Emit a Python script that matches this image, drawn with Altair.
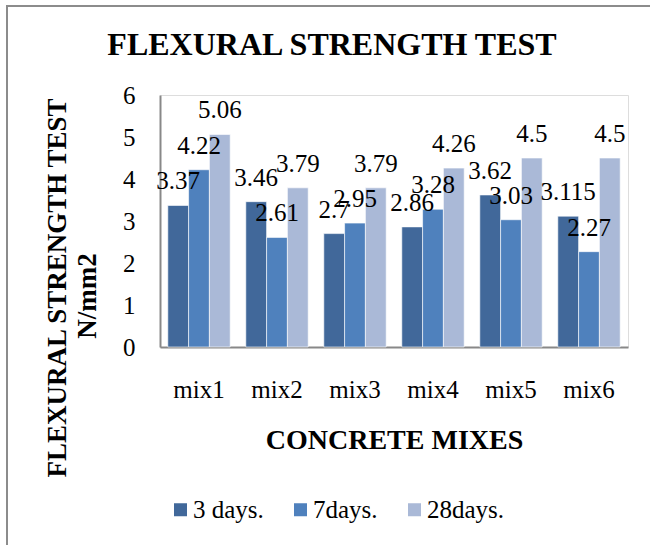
import altair as alt
import pandas as pd

# Flexural strength (N/mm2) per concrete mix and curing age
mixes = ["mix1", "mix2", "mix3", "mix4", "mix5", "mix6"]
ages = ["3 days.", "7days.", "28days."]
days3 = [3.37, 3.46, 2.7, 2.86, 3.62, 3.115]
days7 = [4.22, 2.61, 2.95, 3.28, 3.03, 2.27]
days28 = [5.06, 3.79, 3.79, 4.26, 4.5, 4.5]
colors = ["#41689A", "#4F81BD", "#AAB9D7"]

chart_title = "FLEXURAL STRENGTH TEST"
y_title = ["FLEXURAL STRENGTH TEST", "N/mm2"]
x_title = "CONCRETE MIXES"

rows = []
for age, vals in zip(ages, [days3, days7, days28]):
    for mix, v in zip(mixes, vals):
        rows.append({"mix": mix, "age": age, "strength": v, "label": str(v)})
df = pd.DataFrame(rows)

serif = "Liberation Serif"
W, H = 468, 252
PAD = {"left": 160, "top": 95, "right": 22, "bottom": 198}

x_enc = alt.X(
    "mix:N",
    sort=mixes,
    scale=alt.Scale(paddingInner=0.2, paddingOuter=0.1),
    axis=alt.Axis(
        title=x_title,
        labelAngle=0,
        labelFont=serif,
        labelFontSize=25,
        labelColor="#000000",
        labelBaseline="alphabetic",
        labelPadding=50,
        ticks=False,
        tickSize=0,
        domainColor="#888888",
        domainWidth=2,
        titleFont=serif,
        titleFontSize=28,
        titleFontWeight="bold",
        titleColor="#000000",
        titleBaseline="alphabetic",
        titleY=101,
        titleX=W / 2,
        grid=False,
    ),
)
xoff_enc = alt.XOffset("age:N", sort=ages, scale=alt.Scale(paddingInner=0, paddingOuter=0))
y_enc = alt.Y(
    "strength:Q",
    scale=alt.Scale(domain=[0, 6], nice=False),
    axis=alt.Axis(
        title=None,
        values=[0, 1, 2, 3, 4, 5, 6],
        labelFont=serif,
        labelFontSize=25,
        labelColor="#000000",
        labelPadding=25,
        ticks=False,
        tickSize=0,
        domainColor="#888888",
        domainWidth=2,
        grid=False,
    ),
)

bars = alt.Chart(df).mark_bar(stroke="#ffffff", strokeWidth=1, strokeOpacity=0.6).encode(
    x=x_enc,
    xOffset=xoff_enc,
    y=y_enc,
    color=alt.Color(
        "age:N",
        sort=ages,
        scale=alt.Scale(domain=ages, range=colors),
        legend=alt.Legend(
            title=None,
            orient="none",
            direction="horizontal",
            legendX=8,
            legendY=402,
            padding=0,
            symbolType="square",
            symbolSize=169,
            symbolStrokeWidth=0,
            labelFont=serif,
            labelFontSize=25,
            labelColor="#000000",
            labelOffset=0,
            columnPadding=24,
        ),
    ),
)

labels = alt.Chart(df).mark_text(
    font=serif, fontSize=25, color="#000000", baseline="alphabetic", dy=-16
).encode(
    x=alt.X("mix:N", sort=mixes),
    xOffset=alt.XOffset("age:N", sort=ages),
    y=alt.Y("strength:Q"),
    text="label:N",
)

# Chart title above the plot
title_mark = alt.Chart(pd.DataFrame({"t": [chart_title]})).mark_text(
    font=serif, fontSize=32, fontWeight="bold", color="#000000",
    baseline="alphabetic", align="center",
).encode(text="t:N", x=alt.value(172), y=alt.value(-40))

# Two-line rotated value-axis title
ytitle_main = alt.Chart(pd.DataFrame({"t": [y_title[0]]})).mark_text(
    font=serif, fontSize=27, fontWeight="bold", color="#000000",
    angle=270, align="center", baseline="middle",
).encode(text="t:N", x=alt.value(-102), y=alt.value(193))
ytitle_unit = alt.Chart(pd.DataFrame({"t": [y_title[1]]})).mark_text(
    font=serif, fontSize=27, fontWeight="bold", color="#000000",
    angle=270, align="center", baseline="middle",
).encode(text="t:N", x=alt.value(-72), y=alt.value(201))

# Chart-area frame: top and left edges
one = pd.DataFrame({"k": [0]})
frame_top = alt.Chart(one).mark_rule(color="#8c8c8c", strokeWidth=2).encode(
    x=alt.value(-153), x2=alt.value(490), y=alt.value(-89)
)
frame_left = alt.Chart(one).mark_rule(color="#8c8c8c", strokeWidth=2).encode(
    x=alt.value(-153), y=alt.value(-90), y2=alt.value(460)
)

chart = (
    alt.layer(bars, labels, title_mark, ytitle_main, ytitle_unit, frame_top, frame_left)
    .properties(
        width=W,
        height=H,
        padding=PAD,
        autosize=alt.AutoSizeParams(type="none"),
    )
    .configure_view(stroke="transparent", strokeWidth=0, strokeOpacity=0)
    .configure(background="#ffffff")
)

chart.save("out.html", embed_options={"renderer": "svg", "actions": False})
